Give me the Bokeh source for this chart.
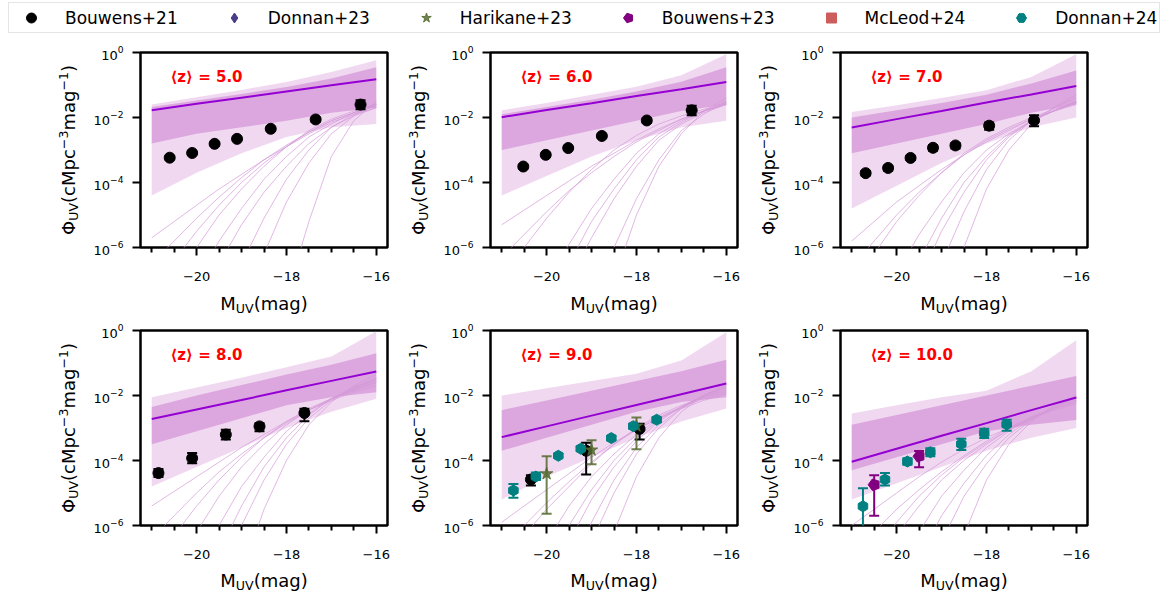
import math
from bokeh.plotting import figure
from bokeh.models import Range1d, FixedTicker, Label, Legend, LegendItem
from bokeh.layouts import column, row
from bokeh.embed import file_html
from bokeh.resources import INLINE

# ---------------------------------------------------------------- data
REDSHIFTS = [5.0, 6.0, 7.0, 8.0, 9.0, 10.0]

# magnitude grids on which the model curves are tabulated
M_GRID = [-21.0, -20.0, -19.0, -18.0, -17.0, -16.0]
M_TAIL = [-21.0, -20.5, -20.0, -19.5, -19.0, -18.5, -18.0, -17.5, -17.0, -16.5, -16.0]

X_MAJOR = [-20, -18, -16]
X_MINOR = [-21, -20.5, -19.5, -19, -18.5, -17.5, -17, -16.5]
Y_MAJOR = [1e-6, 1e-4, 1e-2, 1.0]

# best-fit UV luminosity function, log10(phi) on M_GRID
fit_z5 = [-1.78, -1.58, -1.39, -1.20, -1.01, -0.82]
fit_z6 = [-1.99, -1.77, -1.56, -1.34, -1.13, -0.91]
fit_z7 = [-2.31, -2.05, -1.80, -1.54, -1.29, -1.03]
fit_z8 = [-2.72, -2.43, -2.14, -1.84, -1.55, -1.26]
fit_z9 = [-3.28, -2.95, -2.62, -2.29, -1.96, -1.63]
fit_z10 = [-4.04, -3.64, -3.24, -2.85, -2.45, -2.06]

# posterior spread, log10(phi) on M_GRID: outer and dense-core envelopes
outer_hi_z5 = [-1.60, -1.38, -1.15, -0.91, -0.60, -0.24]
core_hi_z5 = [-1.68, -1.48, -1.28, -1.06, -0.80, -0.45]
core_lo_z5 = [-2.80, -2.50, -2.30, -2.10, -1.85, -1.70]
outer_lo_z5 = [-4.40, -3.70, -3.10, -2.60, -2.30, -2.20]

outer_hi_z6 = [-1.78, -1.55, -1.30, -1.05, -0.70, -0.05]
core_hi_z6 = [-1.90, -1.68, -1.45, -1.20, -0.90, -0.45]
core_lo_z6 = [-3.00, -2.70, -2.40, -2.10, -1.80, -1.60]
outer_lo_z6 = [-4.40, -3.80, -3.20, -2.70, -2.30, -2.10]

outer_hi_z7 = [-1.83, -1.62, -1.40, -1.16, -0.75, -0.05]
core_hi_z7 = [-2.00, -1.78, -1.55, -1.30, -0.95, -0.55]
core_lo_z7 = [-3.10, -2.80, -2.50, -2.20, -1.85, -1.60]
outer_lo_z7 = [-4.80, -4.10, -3.40, -2.80, -2.30, -2.00]

outer_hi_z8 = [-2.05, -1.75, -1.45, -1.13, -0.80, -0.02]
core_hi_z8 = [-2.35, -2.00, -1.68, -1.35, -1.05, -0.70]
core_lo_z8 = [-3.50, -3.10, -2.70, -2.30, -2.05, -1.90]
outer_lo_z8 = [-4.80, -4.20, -3.60, -3.00, -2.50, -2.10]

outer_hi_z9 = [-2.00, -1.78, -1.55, -1.33, -0.92, -0.05]
core_hi_z9 = [-2.45, -2.15, -1.85, -1.55, -1.25, -0.90]
core_lo_z9 = [-3.70, -3.30, -2.90, -2.50, -2.20, -2.05]
outer_lo_z9 = [-5.20, -4.50, -3.90, -3.30, -2.80, -2.40]

outer_hi_z10 = [-2.55, -2.30, -2.05, -1.85, -1.25, -0.30]
core_hi_z10 = [-2.90, -2.60, -2.30, -2.00, -1.70, -1.40]
core_lo_z10 = [-4.30, -3.90, -3.50, -3.10, -2.90, -2.75]
outer_lo_z10 = [-5.20, -4.70, -4.20, -3.70, -3.30, -3.00]

# posterior draws with a bright cut-off, log10(phi) on M_TAIL
tails_z5 = [
    [-5.7, -5.2, -4.7, -4.2, -3.75, -3.3, -2.9, -2.5, -2.15, -1.9, -1.7],
    [-6.5, -5.8, -5.1, -4.45, -3.85, -3.3, -2.85, -2.45, -2.1, -1.85, -1.65],
    [-7.5, -6.4, -5.5, -4.7, -4.0, -3.4, -2.9, -2.45, -2.1, -1.85, -1.65],
    [-8.5, -7.4, -6.0, -5.0, -4.2, -3.5, -2.9, -2.4, -2.05, -1.8, -1.6],
    [-9.5, -8.2, -7.0, -5.8, -4.8, -3.9, -3.2, -2.6, -2.2, -1.85, -1.6],
    [-10, -9, -8, -6.5, -5.3, -4.3, -3.5, -2.8, -2.3, -1.95, -1.7],
    [-10, -10, -9, -8, -6.5, -5.1, -3.9, -3.0, -2.3, -1.9, -1.6],
    [-10, -10, -10, -9, -7.8, -6.2, -4.6, -3.4, -2.5, -1.95, -1.55],
    [-10, -10, -10, -10, -10, -9, -7.5, -5.2, -3.2, -2.1, -1.5],
]
tails_z6 = [
    [-5.3, -4.85, -4.4, -3.95, -3.5, -3.1, -2.7, -2.35, -2.05, -1.8, -1.6],
    [-6.3, -5.6, -4.9, -4.25, -3.7, -3.2, -2.75, -2.4, -2.05, -1.8, -1.6],
    [-7.5, -6.0, -5.1, -4.3, -3.6, -3.0, -2.55, -2.2, -1.95, -1.75, -1.55],
    [-9, -8, -7, -5.9, -4.8, -3.9, -3.1, -2.5, -2.1, -1.8, -1.55],
    [-10, -9, -8, -6.5, -5.2, -4.2, -3.3, -2.6, -2.15, -1.8, -1.55],
    [-10, -10, -9, -7, -5.7, -4.5, -3.5, -2.7, -2.2, -1.85, -1.6],
    [-10, -10, -10, -9, -7.5, -6.0, -4.5, -3.3, -2.4, -1.9, -1.5],
    [-10, -10, -10, -10, -9, -7.0, -5.0, -3.5, -2.5, -1.8, -1.4],
]
tails_z7 = [
    [-5.8, -5.2, -4.6, -4.1, -3.6, -3.15, -2.75, -2.4, -2.05, -1.8, -1.6],
    [-6.6, -5.8, -5.0, -4.3, -3.7, -3.15, -2.7, -2.35, -2.05, -1.8, -1.55],
    [-7.5, -6.2, -5.2, -4.4, -3.7, -3.1, -2.65, -2.3, -2.0, -1.75, -1.55],
    [-9, -8, -6.8, -5.6, -4.6, -3.7, -3.0, -2.5, -2.1, -1.8, -1.55],
    [-10, -9, -7.8, -6.4, -5.1, -4.0, -3.2, -2.55, -2.1, -1.8, -1.5],
    [-10, -9.5, -8.5, -7, -5.5, -4.3, -3.3, -2.6, -2.1, -1.8, -1.5],
    [-10, -10, -10, -8.5, -6.5, -4.9, -3.6, -2.7, -2.1, -1.7, -1.4],
    [-10, -10, -10, -10, -8, -6, -4.2, -3.0, -2.2, -1.7, -1.3],
]
tails_z8 = [
    [-5.4, -4.95, -4.5, -4.05, -3.6, -3.2, -2.8, -2.45, -2.15, -1.9, -1.7],
    [-6.4, -5.7, -5.0, -4.35, -3.8, -3.3, -2.85, -2.45, -2.1, -1.85, -1.6],
    [-7.5, -6.3, -5.4, -4.6, -3.9, -3.3, -2.8, -2.4, -2.1, -1.85, -1.6],
    [-9, -7.8, -6.2, -5.1, -4.2, -3.5, -2.9, -2.45, -2.1, -1.8, -1.55],
    [-10, -9, -7.5, -6.0, -4.8, -3.9, -3.1, -2.55, -2.1, -1.8, -1.5],
    [-10, -10, -8.5, -6.8, -5.4, -4.2, -3.3, -2.6, -2.1, -1.75, -1.5],
    [-10, -10, -9, -7.5, -6.0, -4.6, -3.5, -2.7, -2.15, -1.75, -1.45],
    [-10, -10, -10, -9, -7.5, -5.5, -4.0, -2.9, -2.2, -1.7, -1.35],
]
tails_z9 = [
    [-5.9, -5.4, -4.9, -4.4, -3.9, -3.45, -3.05, -2.7, -2.4, -2.15, -1.95],
    [-6.6, -6.0, -5.3, -4.65, -4.05, -3.5, -3.05, -2.65, -2.35, -2.1, -1.9],
    [-7.5, -6.3, -5.5, -4.8, -4.1, -3.5, -3.0, -2.6, -2.3, -2.05, -1.85],
    [-9, -8, -6.5, -5.4, -4.5, -3.8, -3.2, -2.7, -2.35, -2.05, -1.8],
    [-10, -9, -7.5, -6.0, -4.9, -4.0, -3.3, -2.75, -2.35, -2.0, -1.75],
    [-10, -9.5, -8.2, -6.5, -5.2, -4.2, -3.4, -2.8, -2.35, -2.0, -1.75],
    [-10, -10, -9.5, -7.5, -5.9, -4.6, -3.6, -2.9, -2.4, -2.0, -1.7],
    [-10, -10, -10, -8.5, -6.5, -5.0, -3.8, -3.0, -2.4, -2.0, -1.7],
    [-10, -10, -10, -10, -8.5, -6.2, -4.5, -3.3, -2.5, -2.0, -1.65],
]
tails_z10 = [
    [-6.0, -5.5, -5.0, -4.5, -4.05, -3.65, -3.3, -3.0, -2.7, -2.45, -2.25],
    [-7.0, -6.2, -5.5, -4.9, -4.35, -3.85, -3.4, -3.0, -2.65, -2.4, -2.2],
    [-8.0, -6.9, -5.9, -5.1, -4.45, -3.9, -3.45, -3.05, -2.7, -2.4, -2.15],
    [-9, -7.5, -6.3, -5.4, -4.6, -4.0, -3.5, -3.05, -2.7, -2.4, -2.15],
    [-10, -9, -7.5, -6.2, -5.1, -4.3, -3.6, -3.1, -2.7, -2.35, -2.1],
    [-10, -10, -8.5, -7.0, -5.7, -4.7, -3.85, -3.2, -2.7, -2.35, -2.05],
    [-10, -10, -9.5, -8, -6.5, -5.1, -4.1, -3.3, -2.75, -2.35, -2.05],
    [-10, -10, -10, -10, -8.5, -6.3, -4.6, -3.5, -2.8, -2.3, -2.0],
]

# observed luminosity functions: M_UV, phi, lower and upper end of the error bar
b21_z5_M = [-20.60, -20.10, -19.60, -19.10, -18.35, -17.35, -16.35]
b21_z5_phi = [5.8e-4, 8.1e-4, 1.55e-3, 2.2e-3, 4.5e-3, 8.7e-3, 2.5e-2]
b21_z5_lo = [5.2e-4, 7.3e-4, 1.40e-3, 2.0e-3, 4.1e-3, 7.5e-3, 1.8e-2]
b21_z5_hi = [6.4e-4, 8.9e-4, 1.70e-3, 2.4e-3, 4.9e-3, 9.9e-3, 3.4e-2]

b21_z6_M = [-20.52, -20.02, -19.52, -18.77, -17.77, -16.77]
b21_z6_phi = [3.1e-4, 7.1e-4, 1.15e-3, 2.7e-3, 8.1e-3, 1.66e-2]
b21_z6_lo = [2.7e-4, 6.4e-4, 1.03e-3, 2.4e-3, 6.9e-3, 1.17e-2]
b21_z6_hi = [3.5e-4, 7.8e-4, 1.27e-3, 3.0e-3, 9.3e-3, 2.3e-2]

b21_z7_M = [-20.69, -20.19, -19.69, -19.19, -18.69, -17.94, -16.94]
b21_z7_phi = [1.94e-4, 2.8e-4, 5.7e-4, 1.17e-3, 1.38e-3, 5.6e-3, 8.1e-3]
b21_z7_lo = [1.65e-4, 2.3e-4, 4.9e-4, 0.94e-3, 1.12e-3, 4.2e-3, 5.4e-3]
b21_z7_hi = [2.25e-4, 3.3e-4, 6.5e-4, 1.40e-3, 1.64e-3, 7.0e-3, 1.17e-2]

b21_z8_M = [-20.85, -20.10, -19.35, -18.60, -17.60]
b21_z8_phi = [4.1e-5, 1.18e-4, 6.3e-4, 1.12e-3, 2.9e-3]
b21_z8_lo = [3.1e-5, 8.3e-5, 4.4e-4, 7.9e-4, 1.6e-3]
b21_z8_hi = [5.5e-5, 1.7e-4, 8.9e-4, 1.4e-3, 3.9e-3]

b21_z9_M = [-20.35, -19.12, -17.93]
b21_z9_phi = [2.6e-5, 2.0e-4, 9.4e-4]
b21_z9_lo = [1.7e-5, 3.7e-5, 4.4e-4]
b21_z9_hi = [3.5e-5, 3.5e-4, 1.35e-3]

h23_z9_M = [-20.0, -19.0, -18.0]
h23_z9_phi = [3.9e-5, 2.1e-4, 1.15e-3]
h23_z9_lo = [2.3e-6, 7.6e-5, 2.2e-4]
h23_z9_hi = [1.35e-4, 4.2e-4, 2.1e-3]

d24_z9_M = [-20.74, -20.24, -19.74, -19.24, -18.56, -18.07, -17.55]
d24_z9_phi = [1.2e-5, 3.2e-5, 1.4e-4, 2.3e-4, 4.9e-4, 1.14e-3, 1.8e-3]
d24_z9_lo = [7.1e-6, 2.5e-5, 1.25e-4, 2.0e-4, 4.2e-4, 0.95e-3, 1.5e-3]
d24_z9_hi = [1.9e-5, 4.3e-5, 1.6e-4, 2.7e-4, 5.7e-4, 1.35e-3, 2.15e-3]

b23_z10_M = [-20.5, -19.5]
b23_z10_phi = [1.8e-5, 1.35e-4]
b23_z10_lo = [2.0e-6, 6.2e-5]
b23_z10_hi = [3.5e-5, 1.95e-4]

d24_z10_M = [-20.75, -20.26, -19.76, -19.25, -18.56, -18.05, -17.55]
d24_z10_phi = [3.9e-6, 2.6e-5, 9.3e-5, 1.8e-4, 3.2e-4, 6.9e-4, 1.29e-3]
d24_z10_lo = [1e-8, 1.7e-5, 7.4e-5, 1.35e-4, 2.1e-4, 4.9e-4, 8.3e-4]
d24_z10_hi = [1.4e-5, 4.1e-5, 1.18e-4, 2.4e-4, 4.7e-4, 9.4e-4, 1.8e-3]

SURVEYS = ["Bouwens+21", "Donnan+23", "Harikane+23", "Bouwens+23", "McLeod+24", "Donnan+24"]

# ---------------------------------------------------------------- tables
FIT = {5.0: fit_z5, 6.0: fit_z6, 7.0: fit_z7, 8.0: fit_z8, 9.0: fit_z9, 10.0: fit_z10}
ENVELOPE = {
    5.0: (outer_lo_z5, core_lo_z5, core_hi_z5, outer_hi_z5),
    6.0: (outer_lo_z6, core_lo_z6, core_hi_z6, outer_hi_z6),
    7.0: (outer_lo_z7, core_lo_z7, core_hi_z7, outer_hi_z7),
    8.0: (outer_lo_z8, core_lo_z8, core_hi_z8, outer_hi_z8),
    9.0: (outer_lo_z9, core_lo_z9, core_hi_z9, outer_hi_z9),
    10.0: (outer_lo_z10, core_lo_z10, core_hi_z10, outer_hi_z10),
}
TAILS = {5.0: tails_z5, 6.0: tails_z6, 7.0: tails_z7, 8.0: tails_z8, 9.0: tails_z9, 10.0: tails_z10}
OBS = {
    5.0: [("Bouwens+21", b21_z5_M, b21_z5_phi, b21_z5_lo, b21_z5_hi)],
    6.0: [("Bouwens+21", b21_z6_M, b21_z6_phi, b21_z6_lo, b21_z6_hi)],
    7.0: [("Bouwens+21", b21_z7_M, b21_z7_phi, b21_z7_lo, b21_z7_hi)],
    8.0: [("Bouwens+21", b21_z8_M, b21_z8_phi, b21_z8_lo, b21_z8_hi)],
    9.0: [("Bouwens+21", b21_z9_M, b21_z9_phi, b21_z9_lo, b21_z9_hi),
          ("Harikane+23", h23_z9_M, h23_z9_phi, h23_z9_lo, h23_z9_hi),
          ("Donnan+24", d24_z9_M, d24_z9_phi, d24_z9_lo, d24_z9_hi)],
    10.0: [("Bouwens+23", b23_z10_M, b23_z10_phi, b23_z10_lo, b23_z10_hi),
           ("Donnan+24", d24_z10_M, d24_z10_phi, d24_z10_lo, d24_z10_hi)],
}

# marker, colour, size, alpha, angle
STYLE = {
    "Bouwens+21": ("circle", "black", 11, 1.0, 0.0),
    "Donnan+23": ("diamond", "darkslateblue", 13, 1.0, 0.0),
    "Harikane+23": ("star", "darkolivegreen", 13, 0.85, 0.0),
    "Bouwens+23": ("pentagon", "purple", 12, 1.0, 0.0),
    "McLeod+24": ("square", "indianred", 10, 1.0, 0.0),
    "Donnan+24": ("hex", "teal", 11, 1.0, math.pi / 2),
}

FIT_COLOR = "#9400d3"
OUTER_COLOR = "#dfa9e0"
CORE_COLOR = "#d392d6"
TAIL_COLOR = "#d49ad8"
FONT = "DejaVu Sans"

# DejaVu Sans advance widths (em) for the label characters
EM = {"Φ": 0.788, "U": 0.732, "V": 0.684, "(": 0.390, ")": 0.390, "c": 0.550,
      "M": 0.863, "p": 0.635, "m": 0.974, "a": 0.613, "g": 0.635, "−": 0.838,
      "3": 0.636, "1": 0.636}
MID = 0.346   # height of the em-box middle above the baseline, in em

# ---------------------------------------------------------------- layout
FRAME_W, FRAME_H = 247, 195
YLAB_W = [86, 36, 36]          # strip holding the rotated axis title
COL_LEFT = [54, 54, 54]        # room for the y tick labels
COL_RIGHT = [13, 13, 81]
ROW_TOP = [14, 9]
ROW_BOTTOM = [40, 40]
XLAB_H = [34, 32]              # strip holding the x axis titles
XLAB_BASE = [12, 11]
LEGEND_H = 38
SUB, SUP = -3.5, 7.0
BASE, SCRIPT = 18, 12.6

X_TITLE = [("M", BASE, 0), ("UV", SCRIPT, SUB), ("(mag)", BASE, 0)]
Y_TITLE = [("Φ", BASE, 0), ("UV", SCRIPT, SUB), ("(cMpc", BASE, 0), ("−3", SCRIPT, SUP),
           ("mag", BASE, 0), ("−1", SCRIPT, SUP), (")", BASE, 0)]


def pw(vals):
    return [10.0 ** v for v in vals]


def text_w(text, size):
    return sum(EM[ch] for ch in text) * size


def run_width(runs):
    return sum(text_w(t, s) for t, s, _ in runs)


def add_runs_h(p, runs, x0, yb):
    """Horizontal title from (text, size, shift) runs; x0 = start, yb = baseline."""
    pos = 0.0
    for text, size, shift in runs:
        w = text_w(text, size)
        p.add_layout(Label(x=x0 + pos + w / 2, y=yb + shift + MID * size,
                           x_units="screen", y_units="screen",
                           text=text, text_font=FONT, text_font_size=f"{size}px",
                           text_color="black", text_align="center",
                           text_baseline="middle"))
        pos += w


def add_runs_v(p, runs, xb, y0):
    """Title reading upwards; xb = baseline column, y0 = start of the text."""
    pos = 0.0
    for text, size, shift in runs:
        w = text_w(text, size)
        p.add_layout(Label(x=xb - shift - MID * size, y=y0 + pos + w / 2,
                           x_units="screen", y_units="screen", angle=math.pi / 2,
                           text=text, text_font=FONT, text_font_size=f"{size}px",
                           text_color="black", text_align="center",
                           text_baseline="middle"))
        pos += w


def blank(width, height):
    f = figure(width=width, height=height, x_range=Range1d(0, 1), y_range=Range1d(0, 1),
               output_backend="svg", toolbar_location=None,
               x_axis_location=None, y_axis_location=None, min_border=0)
    f.grid.visible = False
    f.outline_line_color = None
    f.background_fill_color = "white"
    f.border_fill_color = "white"
    return f


def draw_marker(p, name, xs, ys):
    marker, color, size, alpha, angle = STYLE[name]
    if marker == "pentagon":
        return p.ngon(x=xs, y=ys, radius=size / 2, radius_units="screen", n=5,
                      angle=math.pi / 2, fill_color=color, line_color=color,
                      fill_alpha=alpha, line_alpha=alpha)
    return p.scatter(x=xs, y=ys, marker=marker, size=size, angle=angle,
                     fill_color=color, line_color=color, fill_alpha=alpha,
                     line_alpha=alpha)


def make_panel(z, c, r):
    p = figure(width=COL_LEFT[c] + FRAME_W + COL_RIGHT[c],
               height=ROW_TOP[r] + FRAME_H + ROW_BOTTOM[r],
               x_range=Range1d(-21.25, -15.75), y_range=Range1d(1e-6, 1.0),
               y_axis_type="log", output_backend="svg", toolbar_location=None,
               min_border_left=COL_LEFT[c], min_border_right=COL_RIGHT[c],
               min_border_top=ROW_TOP[r], min_border_bottom=ROW_BOTTOM[r])
    p.grid.visible = False
    p.background_fill_color = "white"
    p.border_fill_color = "white"
    p.outline_line_color = "black"
    p.outline_line_width = 2.5
    p.outline_line_alpha = 1.0

    for ax in (p.xaxis[0], p.yaxis[0]):
        ax.axis_line_color = None
        ax.major_tick_in = 0
        ax.major_tick_out = 8
        ax.major_tick_line_width = 2
        ax.major_tick_line_color = "black"
        ax.minor_tick_in = 0
        ax.minor_tick_out = 5
        ax.minor_tick_line_width = 2
        ax.minor_tick_line_color = "black"
        ax.major_label_text_font = FONT
        ax.major_label_text_font_size = "13px"
        ax.major_label_text_color = "black"
    p.xaxis.ticker = FixedTicker(ticks=X_MAJOR, minor_ticks=X_MINOR)
    p.xaxis.major_label_overrides = {t: f"−{abs(t)}" for t in X_MAJOR}
    p.xaxis.major_label_standoff = 16
    p.yaxis.ticker = FixedTicker(ticks=Y_MAJOR)
    p.yaxis.minor_tick_line_color = None
    p.yaxis.major_label_standoff = 9

    lo_o, lo_c, hi_c, hi_o = ENVELOPE[z]
    p.varea(x=M_GRID, y1=pw(lo_o), y2=pw(hi_o), fill_color=OUTER_COLOR, fill_alpha=0.45)
    p.varea(x=M_GRID, y1=pw(lo_c), y2=pw(hi_c), fill_color=CORE_COLOR, fill_alpha=0.7)
    p.multi_line(xs=[M_TAIL] * len(TAILS[z]), ys=[pw(t) for t in TAILS[z]],
                 line_color=TAIL_COLOR, line_alpha=0.7, line_width=1)
    p.line(x=M_GRID, y=pw(FIT[z]), line_color=FIT_COLOR, line_width=2)

    for name, ms, phi, lo, hi in OBS[z]:
        _, color, _, alpha, _ = STYLE[name]
        p.segment(x0=ms, y0=lo, x1=ms, y1=hi, line_color=color, line_width=2, line_alpha=alpha)
        p.scatter(x=ms + ms, y=lo + hi, marker="dash", size=10, line_color=color,
                  line_width=2, line_alpha=alpha)
    for name, ms, phi, lo, hi in OBS[z]:
        draw_marker(p, name, ms, phi)

    p.add_layout(Label(x=30, y=FRAME_H - 24, x_units="screen", y_units="screen",
                       text=f"⟨z⟩ = {z:.1f}", text_font=FONT, text_font_style="bold",
                       text_font_size="15px", text_color="red",
                       text_align="left", text_baseline="middle"))
    return p


def y_title_strip(c, r):
    # inside a row the strip's frame lines up with the neighbouring panel frame,
    # so screen y here is measured from the panel's lower spine
    h = ROW_TOP[r] + FRAME_H + ROW_BOTTOM[r]
    s = blank(YLAB_W[c], h)
    add_runs_v(s, Y_TITLE, YLAB_W[c] + COL_LEFT[c] - 66, FRAME_H / 2 - run_width(Y_TITLE) / 2)
    return s


def x_title_strip(r):
    s = blank(1168, XLAB_H[r])
    x = 0
    for c in range(3):
        centre = x + YLAB_W[c] + COL_LEFT[c] + FRAME_W / 2
        add_runs_h(s, X_TITLE, centre - run_width(X_TITLE) / 2, XLAB_BASE[r])
        x += YLAB_W[c] + COL_LEFT[c] + FRAME_W + COL_RIGHT[c]
    return s


# ---------------------------------------------------------------- legend strip
leg = blank(1168, LEGEND_H)
items = []
for name in SURVEYS:
    rend = draw_marker(leg, name, [-5.0], [-5.0])
    items.append(LegendItem(label=name, renderers=[rend]))
legend = Legend(items=items, orientation="horizontal", location=(8, 5),
                glyph_width=40, glyph_height=25, label_standoff=14, spacing=36,
                padding=2, margin=0, border_line_color="#cccccc", border_line_width=1,
                label_text_font=FONT, label_text_font_size="17px",
                label_text_color="black", background_fill_alpha=1.0)
leg.add_layout(legend)

rows = [leg]
for r in range(2):
    cells = []
    for c in range(3):
        z = REDSHIFTS[3 * r + c]
        cells.append(y_title_strip(c, r))
        cells.append(make_panel(z, c, r))
    rows.append(row(*cells))
    rows.append(x_title_strip(r))
layout = column(*rows)

open("out.html", "w").write(file_html(layout, INLINE))
